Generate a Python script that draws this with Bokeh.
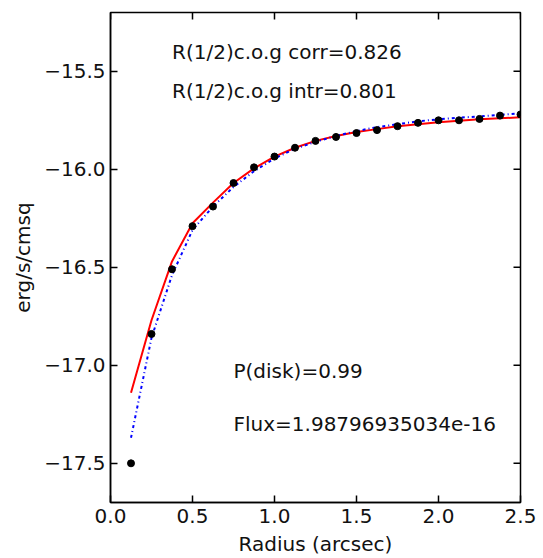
from bokeh.plotting import figure
from bokeh.models import FixedTicker, ColumnDataSource
from bokeh.core.properties import value
from bokeh.embed import file_html
from bokeh.resources import INLINE

# Curve of growth: radius (arcsec) vs cumulative flux (log erg/s/cm^2)
radius = [0.125, 0.25, 0.375, 0.5, 0.625, 0.75, 0.875, 1.0, 1.125, 1.25,
          1.375, 1.5, 1.625, 1.75, 1.875, 2.0, 2.125, 2.25, 2.375, 2.5]
observed = [-17.50, -16.84, -16.51, -16.29, -16.19, -16.07, -15.99, -15.935,
            -15.89, -15.855, -15.835, -15.815, -15.80, -15.78, -15.763,
            -15.75, -15.75, -15.743, -15.726, -15.72]
corrected = [-17.14, -16.77, -16.47, -16.275, -16.17, -16.07, -15.995, -15.935,
             -15.89, -15.855, -15.83, -15.81, -15.795, -15.78, -15.77,
             -15.76, -15.752, -15.745, -15.74, -15.735]
model = [-17.37, -16.86, -16.54, -16.31, -16.19, -16.09, -16.01, -15.945,
         -15.895, -15.86, -15.83, -15.805, -15.785, -15.77, -15.755,
         -15.745, -15.737, -15.73, -15.722, -15.715]

notes = ["R(1/2)c.o.g corr=0.826", "R(1/2)c.o.g intr=0.801",
         "P(disk)=0.99", "Flux=1.98796935034e-16"]
note_x = [0.375, 0.375, 0.75, 0.75]
note_y = [-15.40, -15.60, -17.03, -17.30]

x_ticks = [0.0, 0.5, 1.0, 1.5, 2.0, 2.5]
y_ticks = [-17.5, -17.0, -16.5, -16.0, -15.5]

X_MIN, X_MAX = 0.0, 2.5
Y_MIN, Y_MAX = -17.7, -15.2

FONT = "DejaVu Sans"
FS = "20px"

p = figure(width=543, height=558, x_range=(X_MIN, X_MAX), y_range=(Y_MIN, Y_MAX),
           output_backend="svg", toolbar_location=None,
           min_border_left=110, min_border_right=23,
           min_border_top=12, min_border_bottom=50)
p.grid.visible = False
p.outline_line_color = "black"
p.outline_line_width = 1.5

p.xaxis.ticker = FixedTicker(ticks=x_ticks)
p.yaxis.ticker = FixedTicker(ticks=y_ticks)
p.xaxis.major_label_overrides = {t: f"{t:.1f}" for t in x_ticks}
p.yaxis.major_label_overrides = {t: f"\u2212{abs(t):.1f}" for t in y_ticks}
for ax in (p.xaxis[0], p.yaxis[0]):
    ax.major_tick_in = 7
    ax.major_tick_out = 0
    ax.minor_tick_in = 0
    ax.minor_tick_out = 0
    ax.major_tick_line_width = 1.5
    ax.axis_line_width = 1.5
    ax.major_label_text_font = FONT
    ax.major_label_text_font_size = FS
    ax.major_label_text_color = "#111111"
    ax.axis_label_text_font = FONT
    ax.axis_label_text_font_size = FS
    ax.axis_label_text_font_style = "normal"
    ax.axis_label_text_color = "#111111"
p.xaxis.major_label_standoff = 6
p.yaxis.major_label_standoff = 5
p.xaxis.axis_label = "Radius (arcsec)"
p.yaxis.axis_label = "erg/s/cmsq"
p.xaxis.axis_label_standoff = 6
p.yaxis.axis_label_standoff = 6

# inward tick marks along the top and right edges of the frame
p.scatter(x=x_ticks, y=[Y_MAX] * len(x_ticks), marker="dash", angle=1.5708,
          size=14, line_color="black", line_width=1.5)
p.scatter(x=[X_MAX] * len(y_ticks), y=y_ticks, marker="dash",
          size=14, line_color="black", line_width=1.5)

src = ColumnDataSource(dict(r=radius, obs=observed, corr=corrected, mod=model))

p.line("r", "corr", source=src, line_color="red", line_width=2)
p.line("r", "mod", source=src, line_color="blue", line_width=2,
       line_dash="3 3 1 3")
p.scatter("r", "obs", source=src, size=7, color="black")

p.text(x=note_x, y=note_y, text=notes, text_font=value(FONT),
       text_font_size=FS, text_align="left", text_baseline="middle",
       text_color="#111111")

open("out.html", "w").write(file_html(p, INLINE))
